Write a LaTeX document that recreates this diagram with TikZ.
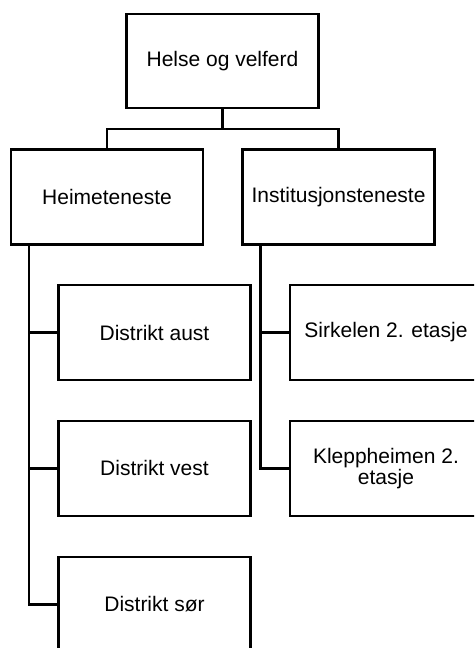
\documentclass[tikz,border=0pt]{standalone}
\usepackage{fontspec}
\setmainfont{Liberation Sans}
\begin{document}
\begin{tikzpicture}[x=1pt,y=1pt,
  box/.style={draw=black, line width=2.2pt, minimum width=192pt, minimum height=95pt, inner sep=2pt, align=center, font=\fontsize{21}{21}\selectfont},
  conn/.style={draw=black, line width=2.4pt}]
\useasboundingbox (0,0) rectangle (474,-648);
\clip (0,0) rectangle (474,-648);
\node[box, minimum height=94pt] (top) at (222.5,-61) {Helse og velferd};
\node[box] (heim) at (107,-197) {Heimeteneste};
\node[box] (inst) at (338.5,-197) {Institusjonsteneste};
\node[box] (aust) at (154.5,-332.5) {Distrikt aust};
\node[box] (vest) at (154.5,-468.3) {Distrikt vest};
\node[box] (sor) at (154.5,-604.3) {Distrikt sør};
\node[box] (sirk) at (386,-332.5) {Sirkelen 2. etasje};
\node[box] (klepp) at (386,-468.3) {Kleppheimen 2.\\etasje};
\draw[conn] (top.south) -- ++(0,-20) -| (heim.north);
\draw[conn] (top.south) -- ++(0,-20) -| (inst.north);
\draw[conn] ([xshift=19pt]heim.south west) |- (aust.west);
\draw[conn] ([xshift=19pt]heim.south west) |- (vest.west);
\draw[conn] ([xshift=19pt]heim.south west) |- (sor.west);
\draw[conn] ([xshift=19pt]inst.south west) |- (sirk.west);
\draw[conn] ([xshift=19pt]inst.south west) |- (klepp.west);
\end{tikzpicture}
\end{document}
